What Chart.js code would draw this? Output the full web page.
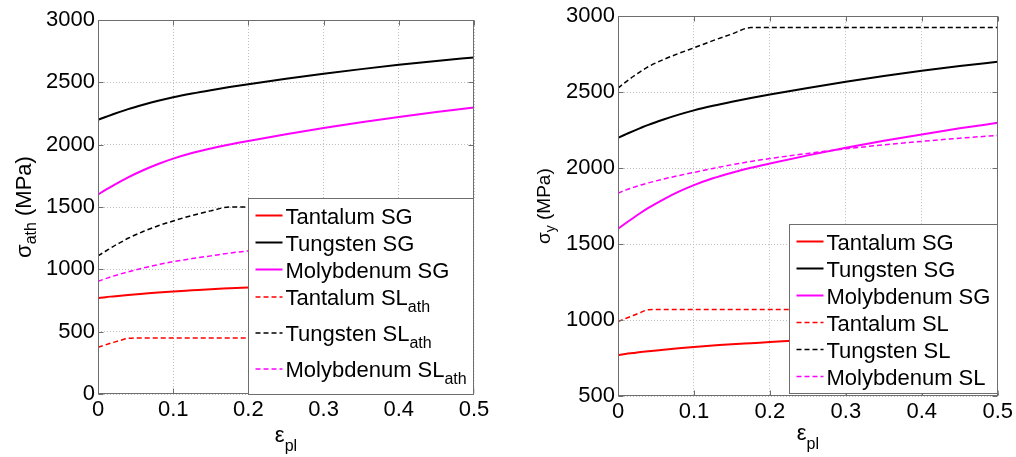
<!DOCTYPE html>
<html lang="en">
<head>
<meta charset="UTF-8">
<title>Flow stress vs plastic strain</title>
<script src="https://cdn.jsdelivr.net/npm/chart.js"></script>
<style>
  body { margin: 0; background: #fff; }
  .panel { position: absolute; top: 0; }
</style>
</head>
<body>
<div class="panel" style="left:0"><canvas id="athChart" width="508" height="457"></canvas></div>
<div class="panel" style="left:508px"><canvas id="yieldChart" width="508" height="457"></canvas></div>
<script>
// plastic strain samples, shared by every curve
var strain = [0, 0.01, 0.02, 0.03, 0.04, 0.06, 0.08, 0.1, 0.125, 0.15, 0.175, 0.2, 0.25, 0.3, 0.35, 0.4, 0.45, 0.5];

// SG model (same curves in both panels), MPa
var tantalumSG   = [769, 777, 783, 789, 794, 804, 814, 823, 832, 841, 848, 855, 869, 881, 893, 904, 915, 925];
var tungstenSG   = [2200, 2222, 2244, 2265, 2285, 2320, 2352, 2380, 2410, 2437, 2462, 2485, 2528, 2568, 2606, 2641, 2672, 2700];
var molybdenumSG = [1600, 1637, 1672, 1706, 1738, 1795, 1845, 1888, 1933, 1970, 2002, 2030, 2084, 2134, 2180, 2222, 2262, 2298];

// left panel: athermal part of SL model
var tantalumSLath   = [375, 394, 413, 431, 446, 450, 450, 450, 450, 450, 450, 450, 450, 450, 450, 450, 450, 450];
var tungstenSLath   = [1108, 1145, 1182, 1216, 1249, 1303, 1349, 1388, 1432, 1469, 1500, 1500, 1500, 1500, 1500, 1500, 1500, 1500];
var molybdenumSLath = [905, 925, 945, 963, 980, 1010, 1038, 1062, 1086, 1108, 1130, 1148, 1180, 1207, 1232, 1255, 1274, 1292];

// right panel: full SL model
var tantalumSL   = [990, 1010, 1030, 1050, 1068, 1070, 1070, 1070, 1070, 1070, 1070, 1070, 1070, 1070, 1070, 1070, 1070, 1070];
var tungstenSL   = [2527, 2566, 2603, 2637, 2668, 2715, 2755, 2792, 2839, 2883, 2925, 2925, 2925, 2925, 2925, 2925, 2925, 2925];
var molybdenumSL = [1835, 1855, 1873, 1889, 1903, 1928, 1951, 1972, 1998, 2022, 2044, 2063, 2097, 2127, 2153, 2176, 2197, 2215];

var FONT = '"Liberation Sans", Arial, Helvetica, sans-serif';
var BOX = '#6e6e6e';

function pts(values) {
    return strain.map(function (s, i) { return { x: s, y: values[i] }; });
}

function line(label, sub, values, color, dashed) {
    return {
        label: label,
        sub: sub,
        data: pts(values),
        borderColor: color,
        backgroundColor: color,
        borderWidth: dashed ? 1.5 : 2,
        borderDash: dashed ? [5, 3] : [],
        pointRadius: 0,
        fill: false,
        cubicInterpolationMode: 'monotone'
    };
}

// text with subscripts: parts = [[text, isSub], ...]
function richWidth(ctx, parts, size, subSize) {
    var w = 0;
    parts.forEach(function (p) {
        ctx.font = (p[1] ? subSize : size) + 'px ' + FONT;
        w += ctx.measureText(p[0]).width;
    });
    return w;
}

function drawRich(ctx, parts, x, y, size, subSize, drop) {
    ctx.textAlign = 'left';
    ctx.textBaseline = 'alphabetic';
    parts.forEach(function (p) {
        ctx.font = (p[1] ? subSize : size) + 'px ' + FONT;
        ctx.fillText(p[0], x, p[1] ? y + drop : y);
        x += ctx.measureText(p[0]).width;
    });
}

// MATLAB-like axes box, inward ticks, legend and axis labels
var matlabStyle = {
    id: 'matlabStyle',
    afterDatasetsDraw: function (chart, args, o) {
        var ctx = chart.ctx, a = chart.chartArea;
        var xs = chart.scales.x, ys = chart.scales.y;
        ctx.save();
        ctx.strokeStyle = BOX;
        ctx.lineWidth = 1;
        ctx.setLineDash([]);
        var L = Math.round(a.left) + 0.5, R = Math.round(a.right) - 0.5;
        var T = Math.round(a.top) + 0.5, B = Math.round(a.bottom) - 0.5;
        ctx.strokeRect(L, T, R - L, B - T);
        ctx.beginPath();
        xs.ticks.forEach(function (t) {
            var px = Math.round(xs.getPixelForValue(t.value)) + 0.5;
            ctx.moveTo(px, B); ctx.lineTo(px, B - 5);
            ctx.moveTo(px, T); ctx.lineTo(px, T + 5);
        });
        ys.ticks.forEach(function (t) {
            var py = Math.round(ys.getPixelForValue(t.value)) + 0.5;
            ctx.moveTo(L, py); ctx.lineTo(L + 5, py);
            ctx.moveTo(R, py); ctx.lineTo(R - 5, py);
        });
        ctx.stroke();

        // legend
        var sets = chart.data.datasets;
        var maxW = 0;
        var rows = sets.map(function (d) {
            var parts = [[d.label, false]];
            if (d.sub) parts.push([d.sub, true]);
            maxW = Math.max(maxW, richWidth(ctx, parts, 22, 16));
            return { parts: parts, h: d.sub ? o.subRow : 27, ds: d };
        });
        var boxH = 7 + rows.reduce(function (s, r) { return s + r.h; }, 0);
        var boxW = 37 + maxW + 8;
        var bx = Math.round(a.right - boxW) + 0.5;
        var by = Math.round(a.bottom - o.legendGap - boxH) + 0.5;
        ctx.fillStyle = '#fff';
        ctx.fillRect(bx, by, boxW, boxH);
        ctx.strokeStyle = BOX;
        ctx.strokeRect(bx, by, R - bx, boxH);
        var cy = by + 3.5;
        rows.forEach(function (r) {
            var mid = cy + r.h / 2 - (r.ds.sub ? 4 : 0);
            ctx.beginPath();
            ctx.strokeStyle = r.ds.borderColor;
            ctx.lineWidth = r.ds.borderWidth;
            ctx.setLineDash(r.ds.borderDash);
            ctx.moveTo(bx + 7, mid);
            ctx.lineTo(bx + 34, mid);
            ctx.stroke();
            ctx.fillStyle = '#000';
            drawRich(ctx, r.parts, bx + 37, mid + 8, 22, 16, 7);
            cy += r.h;
        });

        // axis titles
        ctx.fillStyle = '#000';
        var xt = [['\u03b5', false], ['pl', true]];
        var xw = richWidth(ctx, xt, 22, 16);
        drawRich(ctx, xt, (a.left + a.right) / 2 - xw / 2, o.xTitleY, 22, 16, 9);

        var yt = [['\u03c3', false], [o.ySub, true], [' (MPa)', false]];
        var yw = richWidth(ctx, yt, o.ySize, o.ySubSize);
        ctx.translate(o.yTitleX, (a.top + a.bottom) / 2);
        ctx.rotate(-Math.PI / 2);
        drawRich(ctx, yt, -yw / 2, 0, o.ySize, o.ySubSize, 5);
        ctx.restore();
    }
};

function makeChart(id, datasets, yMin, yAxisW, padRight, padTop, xAxisH, style) {
    return new Chart(document.getElementById(id), {
        type: 'line',
        data: { datasets: datasets },
        plugins: [matlabStyle],
        options: {
            responsive: false,
            animation: false,
            devicePixelRatio: 1,
            layout: { padding: { left: 0, right: padRight, top: padTop, bottom: 0 } },
            plugins: {
                legend: { display: false },
                tooltip: { enabled: false },
                matlabStyle: style
            },
            scales: {
                x: {
                    type: 'linear',
                    min: 0, max: 0.5,
                    ticks: {
                        stepSize: 0.1,
                        color: '#000',
                        padding: 3,
                        maxRotation: 0,
                        font: { family: FONT, size: 22 },
                        callback: function (v) { return Math.abs(v) < 1e-9 ? '0' : v.toFixed(1); }
                    },
                    grid: { color: '#bdbdbd', lineWidth: 1, drawTicks: false },
                    border: { display: false, dash: [1, 2] },
                    afterFit: function (s) { s.height = xAxisH; }
                },
                y: {
                    min: yMin, max: 3000,
                    ticks: {
                        stepSize: 500,
                        color: '#000',
                        padding: 3,
                        font: { family: FONT, size: 22 },
                        callback: function (v) { return String(v); }
                    },
                    grid: { color: '#bdbdbd', lineWidth: 1, drawTicks: false },
                    border: { display: false, dash: [1, 2] },
                    afterFit: function (s) { s.width = yAxisW; }
                }
            }
        }
    });
}

makeChart('athChart', [
    line('Tantalum SG', null, tantalumSG, '#ff0000', false),
    line('Tungsten SG', null, tungstenSG, '#000000', false),
    line('Molybdenum SG', null, molybdenumSG, '#ff00ff', false),
    line('Tantalum SL', 'ath', tantalumSLath, '#ff0000', true),
    line('Tungsten SL', 'ath', tungstenSLath, '#000000', true),
    line('Molybdenum SL', 'ath', molybdenumSLath, '#ff00ff', true)
], 0, 98, 34, 20, 63, {
    subRow: 36, legendGap: 0, xTitleY: 442,
    ySub: 'ath', ySize: 22, ySubSize: 16, yTitleX: 31
});

makeChart('yieldChart', [
    line('Tantalum SG', null, tantalumSG, '#ff0000', false),
    line('Tungsten SG', null, tungstenSG, '#000000', false),
    line('Molybdenum SG', null, molybdenumSG, '#ff00ff', false),
    line('Tantalum SL', null, tantalumSL, '#ff0000', true),
    line('Tungsten SL', null, tungstenSL, '#000000', true),
    line('Molybdenum SL', null, molybdenumSL, '#ff00ff', true)
], 500, 110, 17, 16, 61, {
    subRow: 27, legendGap: 3, xTitleY: 440,
    ySub: 'y', ySize: 19, ySubSize: 14, yTitleX: 42
});
</script>
</body>
</html>
